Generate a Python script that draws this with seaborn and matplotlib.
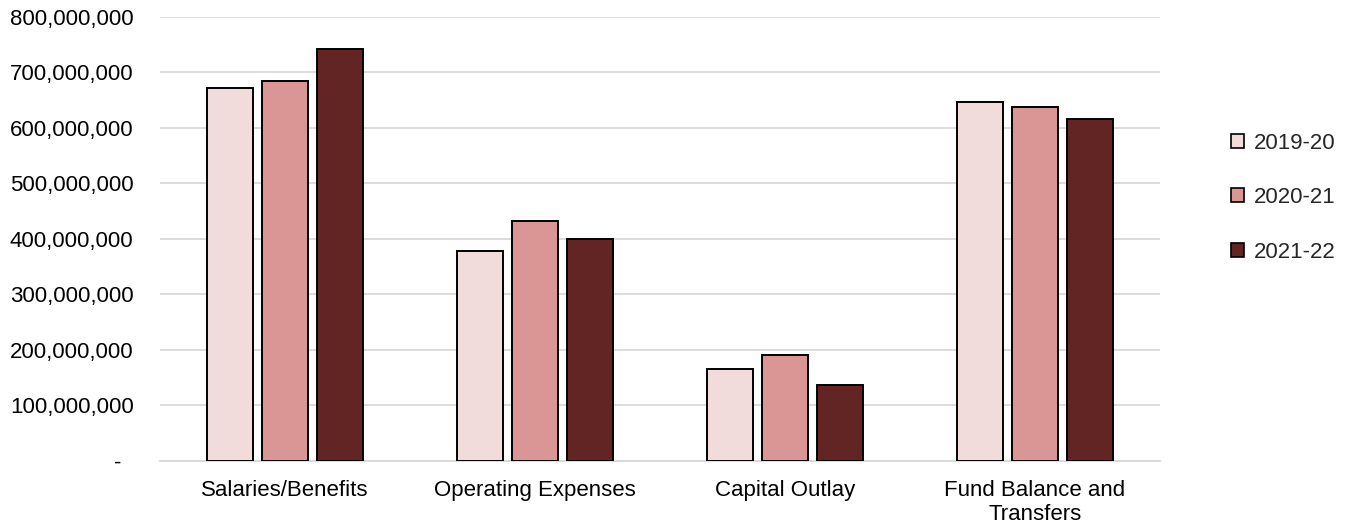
import matplotlib
matplotlib.use("Agg")
import matplotlib.pyplot as plt
import matplotlib.ticker as mticker
import seaborn as sns
import pandas as pd

categories = ["Salaries/Benefits", "Operating Expenses", "Capital Outlay", "Fund Balance and\nTransfers"]
years = ["2019-20", "2020-21", "2021-22"]
v_2019_20 = [672_000_000, 379_000_000, 166_000_000, 647_000_000]
v_2020_21 = [684_000_000, 432_000_000, 191_000_000, 637_000_000]
v_2021_22 = [741_000_000, 399_000_000, 137_000_000, 616_000_000]
colors = ["#F2DCDB", "#DA9694", "#632523"]

rows = []
for yr, vals in zip(years, [v_2019_20, v_2020_21, v_2021_22]):
    for c, v in zip(categories, vals):
        rows.append({"Category": c, "Year": yr, "Value": v})
df = pd.DataFrame(rows)

sns.set_theme(style="white")
plt.rcParams['font.family'] = ['Liberation Sans', 'DejaVu Sans']

fig = plt.figure(figsize=(13.49, 5.26), dpi=100)
ax = fig.add_axes([160/1349, 1-461/526, 1000/1349, (461-16.7)/526])

sns.barplot(data=df, x="Category", y="Value", hue="Year", palette=colors,
            saturation=1, width=0.66, gap=0.18, edgecolor="black", linewidth=1.4,
            ax=ax, legend=False, zorder=3)

ax.set_ylim(0, 800_000_000)
ax.set_xlim(-0.5, 3.5)
ax.yaxis.set_major_locator(mticker.MultipleLocator(100_000_000))
ax.yaxis.set_major_formatter(mticker.FuncFormatter(lambda v, p: "-\u2007" if v == 0 else f"{int(v):,}"))
ax.grid(axis="y", color="#D9D9D9", linewidth=1.3, zorder=0)
ax.set_axisbelow(True)
for s in ["top", "right", "left"]:
    ax.spines[s].set_visible(False)
ax.spines["bottom"].set_color("#D9D9D9")
ax.spines["bottom"].set_linewidth(1.3)
ax.tick_params(axis="both", length=0, labelsize=16, colors="black")
ax.tick_params(axis="y", pad=19)
ax.tick_params(axis="x", pad=14)
ax.set_xlabel("")
ax.set_ylabel("")
for t in ax.get_xticklabels():
    t.set_linespacing(1.15)

from matplotlib.patches import Patch
handles = [Patch(facecolor=c, edgecolor="black", linewidth=1.2) for c in colors]
leg = fig.legend(handles, years, loc="upper left", bbox_to_anchor=(1222/1349, 1-124/526),
                 frameon=False, fontsize=16, handlelength=0.6, handleheight=0.6,
                 handletextpad=0.45, labelspacing=1.5, borderaxespad=0)

fig.savefig("out.png", dpi=100)
